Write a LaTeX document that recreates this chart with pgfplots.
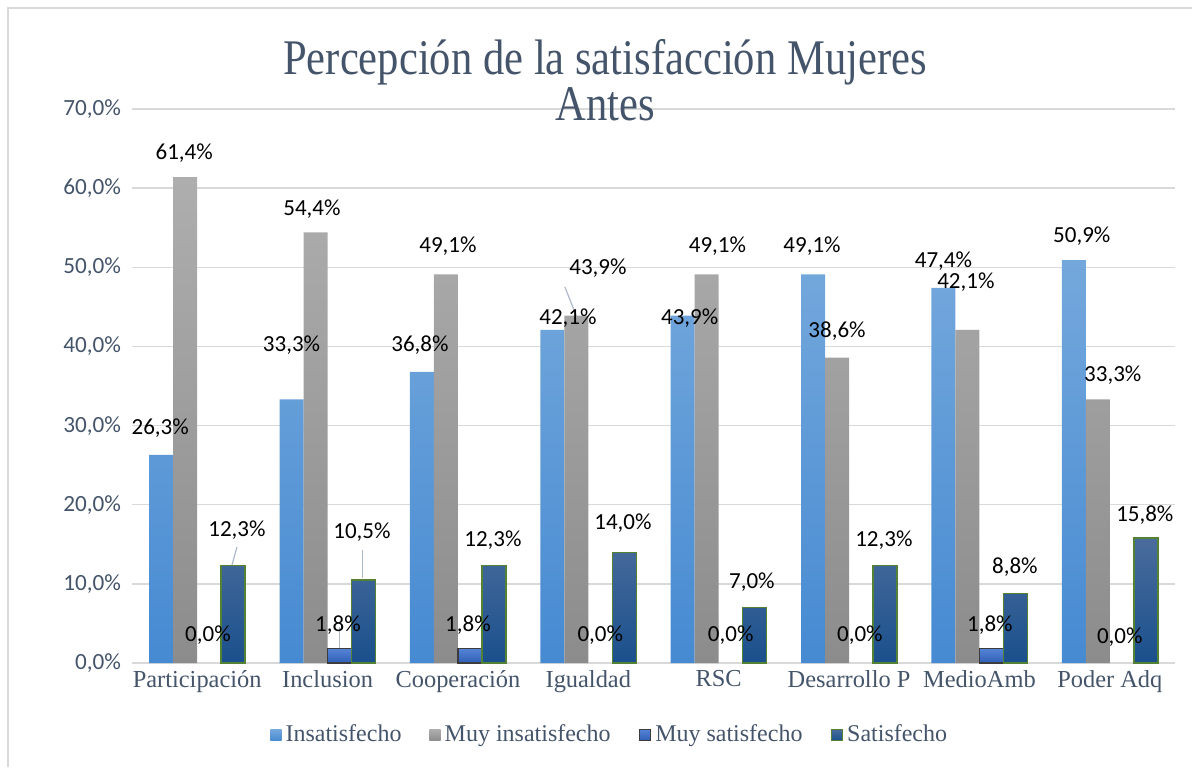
\documentclass[border=0pt]{standalone}
\usepackage{graphicx}
\usepackage{pgfplots}
\pgfplotsset{compat=1.18}
\usepackage{pgfplotstable}
\usepackage{fontspec}
\setmainfont{Liberation Serif}
\newfontfamily\carlito{Carlito}

\definecolor{txt}{RGB}{68,84,106}
\definecolor{gridc}{RGB}{217,217,217}
\definecolor{insTop}{RGB}{116,168,220}
\definecolor{insBot}{RGB}{70,138,210}
\definecolor{miTop}{RGB}{174,174,174}
\definecolor{miBot}{RGB}{140,140,140}
\definecolor{msTop}{RGB}{84,130,214}
\definecolor{msBot}{RGB}{47,95,182}
\definecolor{msEdge}{RGB}{60,60,60}
\definecolor{sTop}{RGB}{74,108,156}
\definecolor{sBot}{RGB}{26,80,140}
\definecolor{sEdge}{RGB}{84,130,53}
\definecolor{leader}{RGB}{173,185,202}

% x y dx dy  (dx, dy: label offset from bar top, in pt)
\pgfplotstableread{
x y dx dy
0 26.3 -0.5 13.5
1 33.3 0 27
2 36.8 -1 13.5
3 42.1 7.8 6
4 43.9 3.5 -1.2
5 49.1 -0.5 14
6 47.4 0 13.6
7 50.9 4 12
}\insat
\pgfplotstableread{
x y dx dy
0 61.4 -0.5 12
1 54.4 -1.8 11.8
2 49.1 1 14
3 43.9 10.8 23.8
4 49.1 5.4 14
5 38.6 0 13.2
6 42.1 -0.8 24
7 33.3 7.5 12.2
}\muyinsat
\pgfplotstableread{
x y dx dy
1 1.8 -0.8 12
2 1.8 -1 12
6 1.8 -0.8 12
}\muysatbars
\pgfplotstableread{
x y dx dy
0 0 -0.6 14
1 1.8 -0.8 12
2 1.8 -1 12
3 0 0 14
4 0 0 14
5 0 -0.6 14
6 1.8 -0.8 12
7 0 -1 13
}\muysat
\pgfplotstableread{
x y dx dy
0 12.3 1.9 17.8
1 10.5 -0.8 24
2 12.3 -0.5 12.8
3 14.0 -0.7 14.5
4 7.0 -1.4 12.8
5 12.3 -0.6 12.8
6 8.8 -0.3 13.2
7 15.8 -0.5 11.5
}\satis
\pgfplotstableread{
x y u v
0.305 14.66 -0.038 -2.28
1.269 14.28 0 -3.54
1.0897 4.55 0 -2.69
2.8206 47.51 0.0897 -3.75
}\leaders

\pgfplotsset{
  bars/.style={ybar, bar width=12pt, bar shift=#1},
  lbl/.style={ybar, bar width=12pt, bar shift=#1, draw=none, fill=none, forget plot,
    point meta=y,
    visualization depends on={\thisrow{dx} \as \dx},
    visualization depends on={\thisrow{dy} \as \dy},
    nodes near coords={\pgfmathprintnumber[fixed,fixed zerofill,precision=1,use comma]{\pgfplotspointmeta}\%},
    every node near coord/.append style={font=\carlito\fontsize{11.5}{13}\selectfont, text=black,
      anchor=center, inner sep=0pt, xshift=\dx pt, xshift=#1, yshift=\dy pt}},
}

\begin{document}
\begin{tikzpicture}
\path[use as bounding box] (0,0) rectangle (596pt,383.5pt);
\draw[gridc, line width=0.75pt] (4pt,0pt) -- (4pt,379.5pt) -- (596pt,379.5pt);
\begin{axis}[
  at={(66pt,52pt)}, anchor=south west,
  scale only axis, width=521.5pt, height=277pt,
  xmin=-0.5, xmax=7.5, ymin=0, ymax=70,
  xtick={0,...,7},
  xticklabels={Participación, Inclusion, Cooperación, Igualdad, RSC, Desarrollo P, MedioAmb, Poder Adq},
  ytick={0,10,...,70},
  yticklabel={\pgfmathprintnumber[fixed,fixed zerofill,precision=1,use comma]{\tick}\%},
  /pgf/number format/assume math mode=true,
  yticklabel style={font=\carlito\fontsize{11.6}{13}\selectfont, text=txt, xshift=-2pt},
  xticklabel style={font=\fontsize{12.2}{14}\selectfont, text=txt},
  major tick length=0pt,
  axis line style={draw=none},
  ymajorgrids, grid style={gridc, line width=0.75pt},
  title={\scalebox{1}[1.17]{\fontsize{21.3}{18.6}\selectfont\begin{tabular}{@{}c@{}}Percepción de la satisfacción Mujeres\\Antes\end{tabular}}},
  title style={at={(0.4535,1.0192)}, anchor=center, inner sep=0pt, text=txt},
  legend style={at={(0.459,-0.13)}, anchor=center, draw=none, fill=none,
    legend columns=-1, font=\fontsize{12}{14}\selectfont, text=txt,
    /tikz/every even column/.append style={column sep=12pt}},
  legend image code/.code={\path[#1] (0pt,-2.8pt) rectangle (5.6pt,2.8pt);},
]
\addplot[bars=-18pt, draw=none, top color=insTop, bottom color=insBot] table[x=x,y=y] {\insat};
\addlegendentry{Insatisfecho}
\addplot[bars=-6pt, draw=none, top color=miTop, bottom color=miBot] table[x=x,y=y] {\muyinsat};
\addlegendentry{Muy insatisfecho}
\addplot[bars=6pt, draw=msEdge, line width=0.7pt, top color=msTop, bottom color=msBot] table[x=x,y=y] {\muysatbars};
\addlegendentry{Muy satisfecho}
\addplot[bars=18pt, draw=sEdge, line width=0.7pt, top color=sTop, bottom color=sBot] table[x=x,y=y] {\satis};
\addlegendentry{Satisfecho}

\addplot[quiver={u=\thisrow{u}, v=\thisrow{v}}, leader, line width=0.6pt, forget plot] table[x=x,y=y] {\leaders};

\addplot[lbl=-18pt] table[x=x,y=y] {\insat};
\addplot[lbl=-6pt] table[x=x,y=y] {\muyinsat};
\addplot[lbl=6pt] table[x=x,y=y] {\muysat};
\addplot[lbl=18pt] table[x=x,y=y] {\satis};
\end{axis}
\end{tikzpicture}
\end{document}
